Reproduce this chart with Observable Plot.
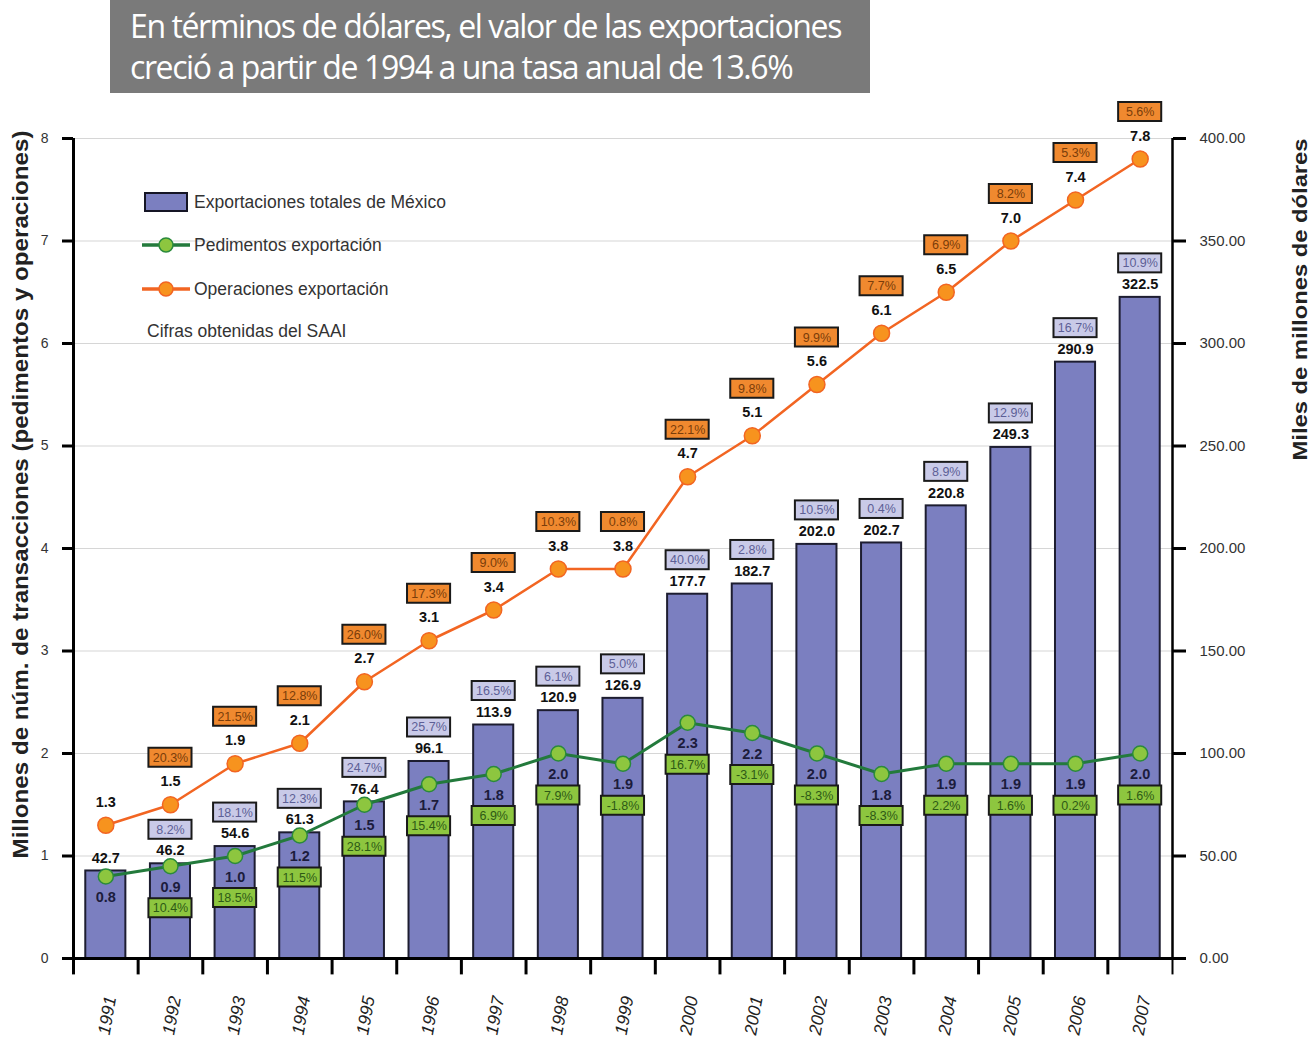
<!DOCTYPE html>
<html><head><meta charset="utf-8">
<script src="https://cdn.jsdelivr.net/npm/d3@7"></script>
<script src="https://cdn.jsdelivr.net/npm/@observablehq/plot@0.6"></script>
<style>
body{margin:0;background:#fff;}
#wrap{position:relative;width:1312px;height:1047px;overflow:hidden;}
#chart{position:absolute;left:0;top:0;}
#title{position:absolute;left:110px;top:0;width:760px;height:93px;background:#7a7a7a;color:#fff;font-family:"Open Sans",sans-serif;font-size:32px;letter-spacing:-1.4px;line-height:41px;padding:5px 0 0 20px;box-sizing:border-box;white-space:nowrap;}
.li{position:absolute;font-family:"Liberation Sans",Arial,sans-serif;font-size:17.5px;color:#333;display:flex;align-items:center;height:24px;white-space:nowrap;}
.li svg{margin-right:3px;}
</style></head>
<body>
<div id="wrap">
<div id="chart"></div>
<div id="title">En términos de dólares, el valor de las exportaciones<br>creció a partir de 1994 a una tasa anual de 13.6%</div>
<div class="li" style="left:143px;top:190px"><svg width="48" height="22"><rect x="2" y="2" width="42" height="18" fill="#7b7fc0" stroke="#151525" stroke-width="2"/></svg>Exportaciones totales de México</div>
<div class="li" style="left:141px;top:233px"><svg width="50" height="22"><line x1="1" x2="49" y1="11" y2="11" stroke="#237a3c" stroke-width="3.5"/><circle cx="25" cy="11" r="7" fill="#8dc63f" stroke="#2a8a3c" stroke-width="1.5"/></svg>Pedimentos exportación</div>
<div class="li" style="left:141px;top:277px"><svg width="50" height="22"><line x1="1" x2="49" y1="11" y2="11" stroke="#f26522" stroke-width="3.5"/><circle cx="25" cy="11" r="7" fill="#f7931e" stroke="#f26522" stroke-width="1.5"/></svg>Operaciones exportación</div>
<div class="li" style="left:147px;top:319px">Cifras obtenidas del SAAI</div>
</div>
<script>
const years = ["1991","1992","1993","1994","1995","1996","1997","1998","1999","2000","2001","2002","2003","2004","2005","2006","2007"];
const expValues = [42.7,46.2,54.6,61.3,76.4,96.1,113.9,120.9,126.9,177.7,182.7,202.0,202.7,220.8,249.3,290.9,322.5];
const expPct = [null,"8.2%","18.1%","12.3%","24.7%","25.7%","16.5%","6.1%","5.0%","40.0%","2.8%","10.5%","0.4%","8.9%","12.9%","16.7%","10.9%"];
const pedValues = [0.8,0.9,1.0,1.2,1.5,1.7,1.8,2.0,1.9,2.3,2.2,2.0,1.8,1.9,1.9,1.9,2.0];
const pedPct = [null,"10.4%","18.5%","11.5%","28.1%","15.4%","6.9%","7.9%","-1.8%","16.7%","-3.1%","-8.3%","-8.3%","2.2%","1.6%","0.2%","1.6%"];
const opValues = [1.3,1.5,1.9,2.1,2.7,3.1,3.4,3.8,3.8,4.7,5.1,5.6,6.1,6.5,7.0,7.4,7.8];
const opPct = [null,"20.3%","21.5%","12.8%","26.0%","17.3%","9.0%","10.3%","0.8%","22.1%","9.8%","9.9%","7.7%","6.9%","8.2%","5.3%","5.6%"];
const leftTicks = [0,1,2,3,4,5,6,7,8];
const ratio = 50; // right axis (miles de millones) per left-axis unit
const leftTitle = "Millones de núm. de transacciones (pedimentos y operaciones)";
const rightTitle = "Miles de millones de dólares";

const W = 1312, H = 1047, mL = 73, mR = 140, mT = 138, mB = 89;
const step = (W - mL - mR) / years.length;
const ky = (H - mT - mB) / 8;
const boxH = 19 / ky;

const bars = years.map((year, i) => ({year, v: expValues[i] / ratio, label: expValues[i].toFixed(1), pct: expPct[i]}));
const ped = years.map((year, i) => ({year, v: pedValues[i], label: pedValues[i].toFixed(1), pct: pedPct[i]}));
const ops = years.map((year, i) => ({year, v: opValues[i], label: opValues[i].toFixed(1), pct: opPct[i]}));

function boxes(data, center, fill, textFill) {
  const d = data.filter(e => e.pct);
  return [
    Plot.barY(d, {x: "year", y1: "v", y2: e => e.v + boxH, dy: center + 9.5, fill, stroke: "#1a1a1a", strokeWidth: 2, insetLeft: -1.5, insetRight: -1.5}),
    Plot.text(d, {x: "year", y: "v", text: "pct", dy: center, fill: textFill, fontSize: 12.5})
  ];
}

const chart = Plot.plot({
  width: W, height: H,
  marginLeft: mL, marginRight: mR, marginTop: mT, marginBottom: mB,
  style: {fontFamily: "Liberation Sans, Arial, sans-serif", background: "white"},
  x: {domain: years, paddingInner: 0.38, paddingOuter: 0.19, round: false, axis: null},
  y: {domain: [0, 8]},
  marks: [
    Plot.gridY(leftTicks.slice(1), {stroke: "#d6d6d6", strokeOpacity: 1, strokeWidth: 1.2}),
    Plot.barY(bars, {x: "year", y: "v", fill: "#7b7fc0", stroke: "#1d1d30", strokeWidth: 2}),
    Plot.ruleY([0], {strokeWidth: 3}),
    Plot.ruleX([years[0]], {dx: -step / 2, strokeWidth: 3}),
    Plot.ruleX([years[years.length - 1]], {dx: step / 2, strokeWidth: 2.5}),
    Plot.ruleX(years, {dx: -step / 2, y1: 0, y2: -0.16, strokeWidth: 3}),
    Plot.ruleX([years[years.length - 1]], {dx: step / 2, y1: 0, y2: -0.16, strokeWidth: 2}),
    Plot.axisY(leftTicks, {anchor: "left", tickSize: 11, strokeWidth: 3, tickPadding: 14, fontSize: 14, fill: "#333", tickFormat: d => String(d), label: null}),
    Plot.axisY(leftTicks, {anchor: "right", tickSize: 13, strokeWidth: 3, tickPadding: 14, fontSize: 15, fill: "#333", tickFormat: d => (d * ratio).toFixed(2), label: null}),
    Plot.text(years, {x: d => d, frameAnchor: "bottom", dx: 7, dy: 58, rotate: -80, text: d => d, fontStyle: "italic", fontSize: 17.5, fill: "#222"}),
    Plot.text([leftTitle], {frameAnchor: "left", textAnchor: "middle", dx: -53, dy: -54, rotate: -90, text: d => d, fontWeight: "bold", fontSize: 22, fill: "#222"}),
    Plot.text([rightTitle], {frameAnchor: "right", textAnchor: "middle", dx: 128, dy: -249, rotate: -90, text: d => d, fontWeight: "bold", fontSize: 21, fill: "#222"}),
    // operaciones
    Plot.line(ops, {x: "year", y: "v", stroke: "#f26522", strokeWidth: 2.5}),
    Plot.dot(ops, {x: "year", y: "v", r: 8, fill: "#f7931e", stroke: "#f26522", strokeWidth: 1.5}),
    Plot.text(ops, {x: "year", y: "v", text: "label", dy: -23, fontWeight: "bold", fontSize: 14.5, fill: "#111"}),
    ...boxes(ops, -47, "#f0892f", "#7a3d0a"),
    // bars labels
    Plot.text(bars, {x: "year", y: "v", text: "label", dy: -13, fontWeight: "bold", fontSize: 14.5, fill: "#111"}),
    ...boxes(bars, -34, "#c9cae8", "#5d5f96"),
    // pedimentos
    Plot.line(ped, {x: "year", y: "v", stroke: "#237a3c", strokeWidth: 3}),
    Plot.dot(ped, {x: "year", y: "v", r: 7.5, fill: "#8dc63f", stroke: "#2a8a3c", strokeWidth: 1.5}),
    Plot.text(ped, {x: "year", y: "v", text: "label", dy: 21, fontWeight: "bold", fontSize: 14.5, fill: "#1c1c3c"}),
    ...boxes(ped, 42, "#8dc63f", "#2d5a16")
  ]
});
d3.select(chart).selectAll("text")
  .filter(function() { return this.textContent === leftTitle; })
  .attr("textLength", 728).attr("lengthAdjust", "spacingAndGlyphs");
d3.select(chart).selectAll("text")
  .filter(function() { return this.textContent === rightTitle; })
  .attr("textLength", 322).attr("lengthAdjust", "spacingAndGlyphs");
document.getElementById("chart").appendChild(chart);
</script>
</body></html>
